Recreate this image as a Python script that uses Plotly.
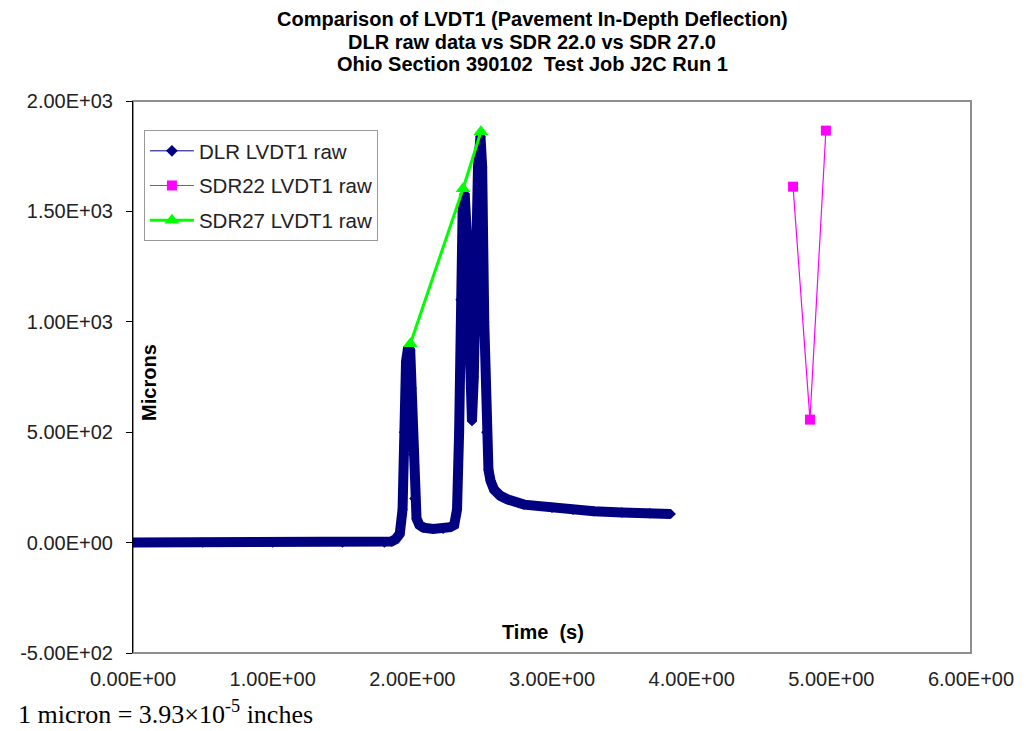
import plotly.graph_objects as go

# ---------------- data ----------------
dlr_time = [0.00, 0.50, 1.00, 1.50, 1.80, 1.85, 1.88, 1.91, 1.93, 1.94, 1.955, 1.97,
            1.985, 1.995, 2.005, 2.015, 2.03, 2.05, 2.08, 2.15, 2.22, 2.27, 2.30, 2.32,
            2.335, 2.345, 2.36, 2.375, 2.39, 2.405, 2.418, 2.427, 2.44, 2.455, 2.47,
            2.488, 2.50, 2.515, 2.53, 2.545, 2.56, 2.585, 2.63, 2.68, 2.80, 3.00, 3.15,
            3.30, 3.50, 3.70, 3.85]
dlr_values = [0, 0, 0, 0, 0, 5, 15, 40, 150, 500, 820, 885,
              870, 700, 400, 200, 110, 80, 68, 62, 62, 70, 80, 150,
              500, 1100, 1500, 1580, 1400, 1000, 700, 550, 750, 1300, 1700,
              1840, 1700, 1000, 500, 330, 280, 240, 212, 196, 172, 158, 149,
              142, 136, 133, 130]

sdr22_time = [4.726, 4.847, 4.961]
sdr22_values = [1612, 557, 1866]

sdr27_time = [1.986, 2.363, 2.491]
sdr27_values = [901, 1603, 1861]

x_tick_vals = [0, 1, 2, 3, 4, 5, 6]
x_tick_text = ["0.00E+00", "1.00E+00", "2.00E+00", "3.00E+00", "4.00E+00", "5.00E+00", "6.00E+00"]
y_tick_vals = [-500, 0, 500, 1000, 1500, 2000]
y_tick_text = ["-5.00E+02", "0.00E+00", "5.00E+02", "1.00E+03", "1.50E+03", "2.00E+03"]

title_lines = ["Comparison of LVDT1 (Pavement In-Depth Deflection)",
               "DLR raw data vs SDR 22.0 vs SDR 27.0",
               "Ohio Section 390102  Test Job J2C Run 1"]

NAVY = "#000080"
MAGENTA = "#FF00FF"
GREEN = "#00FF00"
FONT = "Liberation Sans, Arial, sans-serif"
SERIF = "Liberation Serif, Times New Roman, serif"

# page body has an 8px default margin: shrink the figure so the plot lands
# where the reference has it
OFF = 8
W, H = 1026 - OFF, 731 - OFF
PL, PR, PT, PB = 127, 971, 101, 653          # plot box in window pixels
PW, PH = PR - PL, PB - PT


def px(xw):
    return (xw - PL) / PW


def py(yw):
    return (PB - yw) / PH


fig = go.Figure()

# DLR raw series (dense samples drawn as a thick band)
fig.add_trace(go.Scatter(
    x=dlr_time, y=dlr_values, mode="lines+markers",
    line=dict(color=NAVY, width=10),
    marker=dict(symbol="diamond", size=8, color=NAVY),
    showlegend=False, legendgroup="dlr"))
# legend entry for DLR
fig.add_trace(go.Scatter(
    x=[None], y=[None], mode="lines+markers", name="DLR LVDT1 raw",
    line=dict(color=NAVY, width=1),
    marker=dict(symbol="diamond", size=9, color=NAVY),
    legendgroup="dlr"))

fig.add_trace(go.Scatter(
    x=sdr22_time, y=sdr22_values, mode="lines+markers", name="SDR22 LVDT1 raw",
    line=dict(color=MAGENTA, width=1.2),
    marker=dict(symbol="square", size=10, color=MAGENTA),
    legendgroup="sdr22"))

fig.add_trace(go.Scatter(
    x=sdr27_time, y=sdr27_values, mode="lines+markers", name="SDR27 LVDT1 raw",
    line=dict(color=GREEN, width=3),
    marker=dict(symbol="triangle-up", size=13, color=GREEN),
    legendgroup="sdr27"))

annotations = []
for line, yc in zip(title_lines, [19.5, 41.8, 64.1]):
    annotations.append(dict(
        text="<b>%s</b>" % line, xref="paper", yref="paper",
        x=px(529), y=py(yc), xanchor="center", yanchor="middle",
        showarrow=False, font=dict(family=FONT, size=20, color="black")))

annotations += [
    dict(text="<b>Microns</b>", xref="paper", yref="paper",
         x=px(143), y=py(382), xanchor="center", yanchor="middle", textangle=-90,
         showarrow=False, font=dict(family=FONT, size=20, color="black")),
    dict(text="<b>Time  (s)</b>", xref="paper", yref="paper",
         x=px(540), y=py(632), xanchor="center", yanchor="middle",
         showarrow=False, font=dict(family=FONT, size=20, color="black")),
    dict(text="1 micron = 3.93×10<sup>-5</sup> inches", xref="paper", yref="paper",
         x=px(9), xanchor="left", y=py(712), yanchor="middle",
         showarrow=False, font=dict(family=SERIF, size=26, color="black")),
]

fig.update_layout(
    width=W, height=H,
    paper_bgcolor="white", plot_bgcolor="white",
    margin=dict(l=PL - OFF, r=W - (PR - OFF), t=PT - OFF, b=H - (PB - OFF), pad=0),
    font=dict(family=FONT, color="black", size=20),
    showlegend=True,
    legend=dict(x=px(138), xanchor="left", y=py(130), yanchor="top",
                bgcolor="white", bordercolor="#999999", borderwidth=1,
                font=dict(family=FONT, size=20.5, color="#222222"),
                tracegroupgap=5, itemwidth=44, traceorder="grouped"),
    xaxis=dict(range=[0, 6], tickvals=x_tick_vals, ticktext=x_tick_text,
               showline=False, ticks="", showgrid=False, zeroline=False,
               tickfont=dict(family=FONT, size=20, color="#222222"),
               ticklabelstandoff=12, fixedrange=True),
    xaxis2=dict(range=[0, 6], overlaying="x", anchor="free", position=py(542),
                side="bottom", tickvals=x_tick_vals, showticklabels=False,
                showline=True, linecolor="black", linewidth=1,
                ticks="outside", ticklen=6, tickcolor="black", tickwidth=1,
                showgrid=False, zeroline=False, fixedrange=True),
    yaxis=dict(range=[-500, 2000], tickvals=y_tick_vals, ticktext=y_tick_text,
               showline=True, linecolor="black", linewidth=1,
               ticks="outside", ticklen=6, tickcolor="black", tickwidth=1,
               showgrid=False, zeroline=False, ticklabelstandoff=9,
               tickfont=dict(family=FONT, size=20, color="#222222"), fixedrange=True),
    shapes=[dict(type="rect", xref="paper", yref="paper", x0=0, x1=1, y0=0, y1=1,
                 line=dict(color="#8f8f8f", width=2), layer="below")],
    annotations=annotations,
)

fig.write_html("out.html")
